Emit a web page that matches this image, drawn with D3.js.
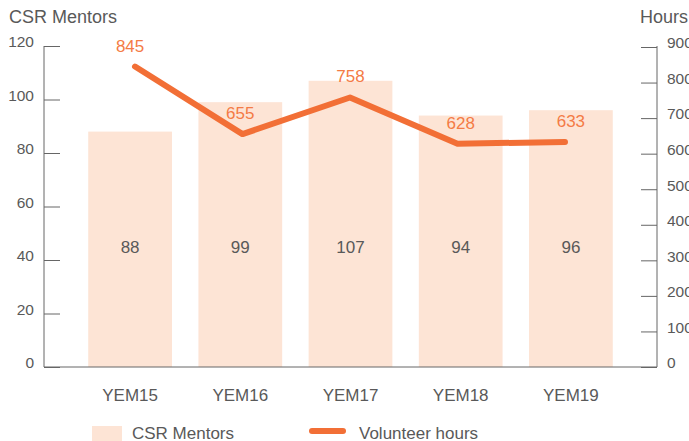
<!DOCTYPE html>
<html>
<head>
<meta charset="utf-8">
<script src="https://cdn.jsdelivr.net/npm/d3@7"></script>
<style>
  html, body { margin: 0; padding: 0; background: #fff; }
  svg { display: block; font-family: "Liberation Sans", Arial, sans-serif; }
</style>
</head>
<body>
<svg id="chart" width="689" height="441"></svg>
<script>
// Data
const years = ["YEM15", "YEM16", "YEM17", "YEM18", "YEM19"];
const mentors = [88, 99, 107, 94, 96];
const hours = [845, 655, 758, 628, 633];
const leftTicks = [0, 20, 40, 60, 80, 100, 120];
const rightTicks = [0, 100, 200, 300, 400, 500, 600, 700, 800, 900];

const barColor = "#fde4d5";
const lineColor = "#f26f36";
const labelOrange = "#f47b45";
const textGray = "#595959";
const axisGray = "#666";

const svg = d3.select("#chart");

const plot = { left: 44, right: 657, top: 46, bottom: 367 };

const x = d3.scaleBand().domain(years).range([75, 626]).paddingInner(0.24).paddingOuter(0.12);
const xLine = d3.scalePoint().domain(years).range([135, 565]);
const yL = d3.scaleLinear().domain([0, 120]).range([plot.bottom, plot.top]);
const yR = d3.scaleLinear().domain([0, 900]).range([plot.bottom, plot.top + 1]);

// Bars
svg.append("g").selectAll("rect").data(years).join("rect")
  .attr("x", d => x(d))
  .attr("width", x.bandwidth())
  .attr("y", (d, i) => yL(mentors[i]))
  .attr("height", (d, i) => yL(0) - yL(mentors[i]))
  .attr("fill", barColor);

// Bar values
svg.append("g").selectAll("text").data(years).join("text")
  .attr("x", d => x(d) + x.bandwidth() / 2)
  .attr("y", yL(45) + 6)
  .attr("text-anchor", "middle")
  .attr("font-size", 17)
  .attr("fill", textGray)
  .text((d, i) => mentors[i]);

// Left axis
const leftAxis = svg.append("g")
  .attr("transform", `translate(${plot.left},0)`)
  .call(d3.axisRight(yL).tickValues(leftTicks).tickSize(16).tickFormat(d3.format("d")));
leftAxis.select(".domain").attr("d", `M0,${plot.top}V${plot.bottom}`).attr("stroke", axisGray);
leftAxis.selectAll(".tick line").attr("stroke", axisGray);
leftAxis.selectAll(".tick text")
  .attr("x", -10).attr("dy", "0.05em")
  .attr("text-anchor", "end")
  .attr("font-size", 15.5)
  .attr("font-family", "Liberation Sans, Arial, sans-serif")
  .attr("fill", textGray);

// Right axis
const rightAxis = svg.append("g")
  .attr("transform", `translate(${plot.right},0)`)
  .call(d3.axisLeft(yR).tickValues(rightTicks).tickSize(16).tickFormat(d3.format("d")));
rightAxis.select(".domain").attr("d", `M0,${plot.top}V${plot.bottom}`).attr("stroke", axisGray);
rightAxis.selectAll(".tick line").attr("stroke", axisGray);
rightAxis.selectAll(".tick text")
  .attr("x", 10).attr("dy", "0.05em")
  .attr("text-anchor", "start")
  .attr("font-size", 15.5)
  .attr("font-family", "Liberation Sans, Arial, sans-serif")
  .attr("fill", textGray);

// Bottom axis
const bottomAxis = svg.append("g")
  .attr("transform", `translate(0,${plot.bottom})`)
  .call(d3.axisBottom(x).tickSize(0).tickPadding(22));
bottomAxis.select(".domain").attr("d", `M${plot.left},0H${plot.right}`).attr("stroke", axisGray);
bottomAxis.selectAll(".tick text")
  .attr("font-size", 17)
  .attr("font-family", "Liberation Sans, Arial, sans-serif")
  .attr("fill", textGray);

// Volunteer hours line
const line = d3.line()
  .x((d, i) => xLine(years[i]))
  .y(d => yR(d));
svg.append("path")
  .datum(hours)
  .attr("d", line)
  .attr("fill", "none")
  .attr("stroke", lineColor)
  .attr("stroke-width", 6)
  .attr("stroke-linecap", "round")
  .attr("stroke-linejoin", "round");

// Line values
svg.append("g").selectAll("text").data(years).join("text")
  .attr("x", d => x(d) + x.bandwidth() / 2)
  .attr("y", (d, i) => yR(hours[i]) - 15)
  .attr("text-anchor", "middle")
  .attr("font-size", 17)
  .attr("fill", labelOrange)
  .text((d, i) => hours[i]);

// Axis titles
svg.append("text").attr("x", 9).attr("y", 23)
  .attr("font-size", 18).attr("fill", textGray).text("CSR Mentors");
svg.append("text").attr("x", 640).attr("y", 23)
  .attr("font-size", 18).attr("fill", textGray).text("Hours");

// Legend
const legend = svg.append("g");
legend.append("rect").attr("x", 92).attr("y", 426).attr("width", 30).attr("height", 16).attr("fill", barColor);
legend.append("text").attr("x", 132).attr("y", 439).attr("font-size", 17).attr("fill", textGray).text("CSR Mentors");
legend.append("line").attr("x1", 312).attr("x2", 343).attr("y1", 431).attr("y2", 431)
  .attr("stroke", lineColor).attr("stroke-width", 6).attr("stroke-linecap", "round");
legend.append("text").attr("x", 359).attr("y", 439).attr("font-size", 17).attr("fill", textGray).text("Volunteer hours");
</script>
</body>
</html>
